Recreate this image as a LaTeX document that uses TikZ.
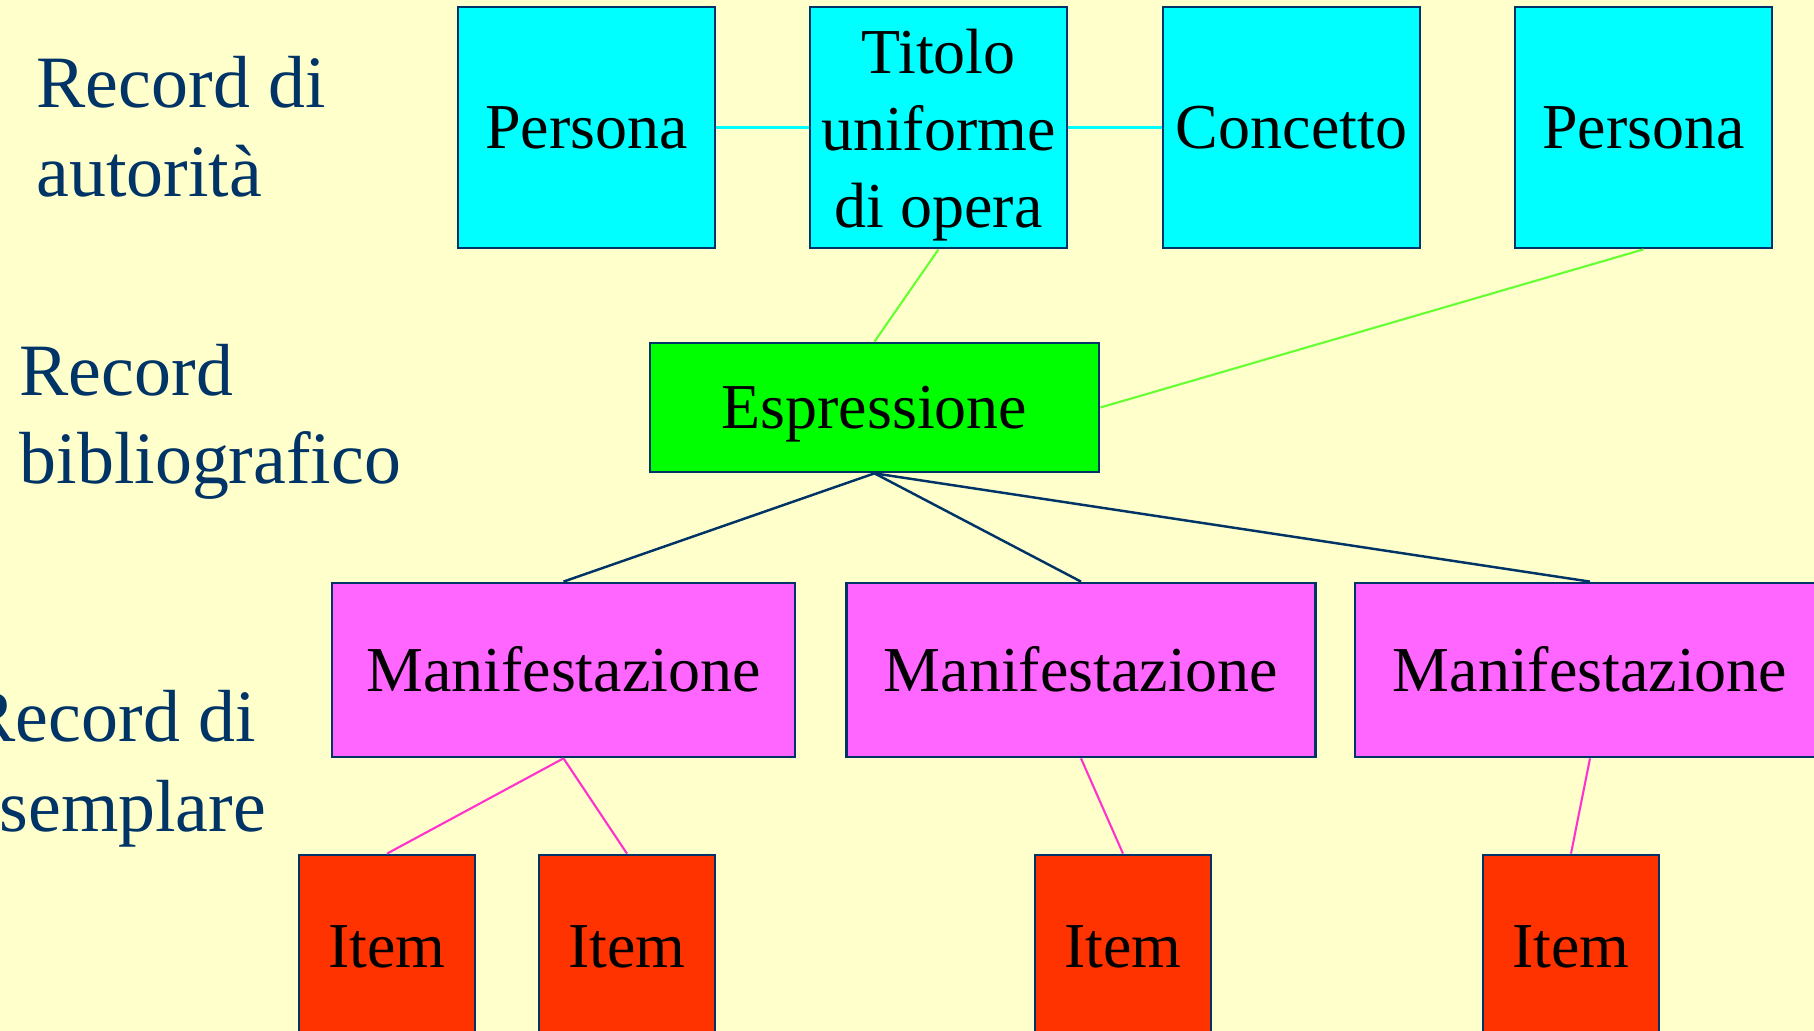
\documentclass[tikz,border=0pt]{standalone}
\usepackage{fontspec}
\setmainfont{Liberation Serif}
\definecolor{bgc}{HTML}{FFFFCC}
\definecolor{dkb}{HTML}{003366}
\definecolor{cyb}{HTML}{00FFFF}
\definecolor{grb}{HTML}{00FF00}
\definecolor{mgb}{HTML}{FF66FF}
\definecolor{rdb}{HTML}{FF3300}
\definecolor{grl}{HTML}{66FF33}
\definecolor{mgl}{HTML}{FF33CC}
\begin{document}
\begin{tikzpicture}[x=0.01cm,y=-0.01cm,
  box/.style={draw=dkb,line width=0.75pt,rectangle,inner sep=0pt,
    font=\fontsize{18.2}{21.8}\selectfont,text=black},
  one/.style={text height=12pt,text depth=0pt},
  auth/.style={box,one,fill=cyb,minimum width=2.57cm,minimum height=2.41cm},
  expr/.style={box,one,fill=grb,minimum width=4.49cm,minimum height=1.29cm},
  manif/.style={box,one,fill=mgb,minimum height=1.74cm},
  itembox/.style={box,one,fill=rdb,minimum width=1.76cm,minimum height=1.82cm},
  lbl/.style={anchor=base west,inner sep=0pt,text=dkb,font=\fontsize{21}{25.3}\selectfont},
  cyl/.style={draw=cyb,line width=0.7pt},
  grlink/.style={draw=grl,line width=0.6pt},
  mglink/.style={draw=mgl,line width=0.6pt},
  dklink/.style={draw=dkb,line width=0.7pt}]
\fill[bgc] (0,0) rectangle (1814,1031);
\useasboundingbox (0,0) rectangle (1814,1031);

% left labels
\node[lbl] (la1) at (36,108) {Record di};
\node[lbl] (la2) at (36,197) {autorità};
\node[lbl] (lb1) at (19,396) {Record};
\node[lbl] (lb2) at (19,484) {bibliografico};
\node[lbl] (lc1) at (-34,742) {Record di};
\node[lbl] (lc2) at (-34,832) {esemplare};

% authority records
\node[auth] (p1) at (586.5,127.5) {Persona};
\node[box,fill=cyb,minimum width=2.57cm,minimum height=2.41cm,align=center,
  text height=56.7pt,text depth=0pt] (tit) at (938.5,127.5)
  {Titolo\\uniforme\\di opera};
\node[auth] (con) at (1291.5,127.5) {Concetto};
\node[auth] (p2) at (1643.5,127.5) {Persona};

% expression
\node[expr] (esp) at (874.5,407.5) {Espressione};

% manifestations
\node[manif,minimum width=4.63cm] (m1) at (563.5,670) {Manifestazione};
\node[manif,minimum width=4.69cm] (m2) at (1081,670) {Manifestazione};
\node[manif,minimum width=4.70cm] (m3) at (1590,670) {Manifestazione};

% items
\node[itembox] (i1) at (387,946) {Item};
\node[itembox] (i2) at (627,946) {Item};
\node[itembox] (i3) at (1123,946) {Item};
\node[itembox] (i4) at (1571,946) {Item};

% connectors
\draw[cyl] (p1.east) -- (tit.west);
\draw[cyl] (tit.east) -- (con.west);
\draw[grlink] (tit.south) -- (esp.north);
\draw[grlink] (p2.south) -- (esp.east);
\draw[dklink] (esp.south) -- (m1.north);
\draw[dklink] (esp.south) -- (m2.north);
\draw[dklink] (esp.south) -- (m3.north);
\draw[mglink] (m1.south) -- (i1.north);
\draw[mglink] (m1.south) -- (i2.north);
\draw[mglink] (m2.south) -- (i3.north);
\draw[mglink] (m3.south) -- (i4.north);
\end{tikzpicture}
\end{document}
